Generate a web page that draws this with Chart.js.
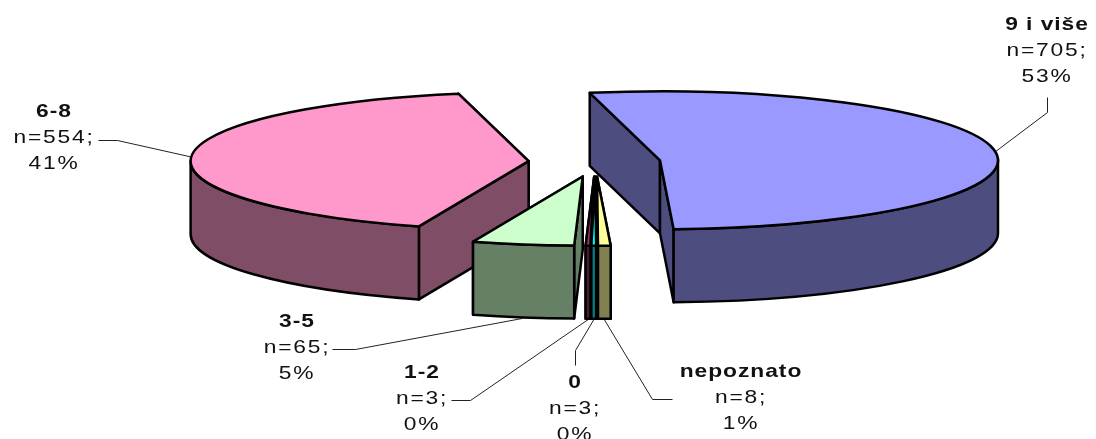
<!DOCTYPE html>
<html>
<head>
<meta charset="utf-8">
<style>
  html, body { margin: 0; padding: 0; background: #fff; }
  canvas { display: block; }
</style>
<script src="https://cdn.jsdelivr.net/npm/chart.js@4/dist/chart.umd.js"></script>
</head>
<body>
<canvas id="pie" width="1096" height="439"></canvas>
<script>
// Data, clockwise from the top of the pie
const categories = ['9 i više', 'nepoznato', '0', '1-2', '3-5', '6-8'];
const counts = [705, 8, 3, 3, 65, 554];
const percents = [53, 1, 0, 0, 5, 41];

const topColors = ['#9999ff', '#ffff99', '#00ffff', '#993366', '#ccffcc', '#ff99cc'];
const sideColors = ['#4d4d80', '#808050', '#008080', '#4d1a33', '#668066', '#804d66'];

// Fake 3D look
const RADIUS = 338;
const SQUASH = 69 / 338;
const DEPTH = 73;
const explode = [65, 72, 72, 72, 72, 67];

// Label centre x, first line y, and the leader elbow points for each slice
const labelSpots = [
    { x: 1047, y: 25, elbow: [[1047, 112], [1047, 97]] },
    { x: 741, y: 372, elbow: [[652, 399], [672, 399]] },
    { x: 575, y: 383, elbow: [[575, 350], [575, 365]] },
    { x: 422, y: 373, elbow: [[470, 400], [451, 400]] },
    { x: 297, y: 322, elbow: [[355, 349], [332, 349]] },
    { x: 54, y: 112, elbow: [[117, 140], [98, 140]] }
];

function sliceGeometry(el, i) {
    const mid = (el.startAngle + el.endAngle) / 2;
    return {
        mid,
        cx: el.x + Math.cos(mid) * explode[i],
        cy: el.y + Math.sin(mid) * explode[i] * SQUASH
    };
}

function rimPoint(g, angle) {
    return [g.cx + Math.cos(angle) * RADIUS, g.cy + Math.sin(angle) * RADIUS * SQUASH];
}

function radialFace(ctx, g, angle) {
    const p = rimPoint(g, angle);
    ctx.beginPath();
    ctx.moveTo(g.cx, g.cy);
    ctx.lineTo(p[0], p[1]);
    ctx.lineTo(p[0], p[1] + DEPTH);
    ctx.lineTo(g.cx, g.cy + DEPTH);
    ctx.closePath();
    ctx.fill();
    ctx.stroke();
}

// The labels in the picture are stretched sideways
function wideText(ctx, text, x, y) {
    ctx.save();
    ctx.translate(x, y);
    ctx.scale(1.2, 1);
    ctx.fillText(text, 0, 0);
    ctx.restore();
}

const pie3d = {
    id: 'pie3d',
    beforeDatasetsDraw(chart) {
        const ctx = chart.ctx;
        const arcs = chart.getDatasetMeta(0).data;
        const order = arcs.map((el, i) => i).sort((a, b) =>
            sliceGeometry(arcs[a], a).cy - sliceGeometry(arcs[b], b).cy);

        order.forEach(i => {
            const el = arcs[i];
            const g = sliceGeometry(el, i);
            const R = RADIUS, Ry = RADIUS * SQUASH;

            ctx.save();
            ctx.lineWidth = 2.5;
            ctx.lineJoin = 'round';
            ctx.strokeStyle = '#000';
            ctx.fillStyle = sideColors[i];

            // cut faces, the one further back first
            [el.startAngle, el.endAngle]
                .sort((a, b) => Math.sin(a) - Math.sin(b))
                .forEach(angle => radialFace(ctx, g, angle));

            // outer wall, only the part facing the viewer
            const from = Math.max(el.startAngle, 0);
            const to = Math.min(el.endAngle, Math.PI);
            if (to > from) {
                ctx.beginPath();
                ctx.ellipse(g.cx, g.cy, R, Ry, 0, from, to);
                ctx.ellipse(g.cx, g.cy + DEPTH, R, Ry, 0, to, from, true);
                ctx.closePath();
                ctx.fill();
                ctx.stroke();
            }

            // top face comes from the library's arc, squashed into an ellipse
            ctx.save();
            ctx.translate(el.x, el.y);
            ctx.scale(1, SQUASH);
            ctx.translate(-el.x, -el.y);
            ctx.translate(Math.cos(g.mid) * explode[i], Math.sin(g.mid) * explode[i]);
            el.draw(ctx);
            ctx.restore();

            ctx.beginPath();
            ctx.moveTo(g.cx, g.cy);
            ctx.ellipse(g.cx, g.cy, R, Ry, 0, el.startAngle, el.endAngle);
            ctx.closePath();
            ctx.stroke();
            ctx.restore();
        });
        return false;
    },
    afterDraw(chart) {
        const ctx = chart.ctx;
        const arcs = chart.getDatasetMeta(0).data;
        ctx.save();
        arcs.forEach((el, i) => {
            const g = sliceGeometry(el, i);
            const spot = labelSpots[i];

            // leader line starts on the rim, or the wall bottom if it faces us
            const start = rimPoint(g, g.mid);
            if (Math.sin(g.mid) > 0.5) start[1] += DEPTH + 1;
            ctx.strokeStyle = '#222';
            ctx.lineWidth = 1;
            ctx.beginPath();
            ctx.moveTo(start[0], start[1]);
            spot.elbow.forEach(p => ctx.lineTo(p[0] + 0.5, p[1] + 0.5));
            ctx.stroke();

            ctx.fillStyle = '#111';
            ctx.textAlign = 'center';
            ctx.textBaseline = 'middle';
            ctx.letterSpacing = '0.8px';
            ctx.font = 'bold 19px "Liberation Sans", Arial, sans-serif';
            wideText(ctx, categories[i], spot.x, spot.y);
            ctx.letterSpacing = '1.5px';
            ctx.font = '19px "Liberation Sans", Arial, sans-serif';
            wideText(ctx, 'n=' + counts[i] + ';', spot.x, spot.y + 26);
            wideText(ctx, percents[i] + '%', spot.x, spot.y + 52);
        });
        ctx.restore();
    }
};

new Chart(document.getElementById('pie'), {
    type: 'pie',
    data: {
        labels: categories,
        datasets: [{
            data: counts,
            backgroundColor: topColors,
            borderWidth: 0,
            radius: RADIUS
        }]
    },
    options: {
        responsive: false,
        animation: false,
        rotation: -12,
        radius: RADIUS,
        layout: { padding: { left: 95, bottom: 115 } },
        plugins: { legend: { display: false }, tooltip: { enabled: false } }
    },
    plugins: [pie3d]
});
</script>
</body>
</html>
